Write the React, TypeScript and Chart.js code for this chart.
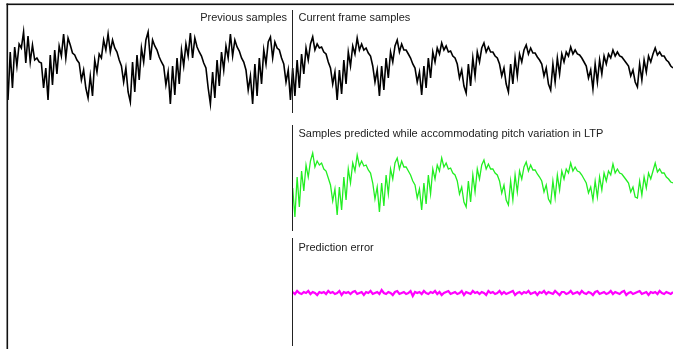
import React, { useEffect, useRef } from "react";
import { Chart, registerables } from "chart.js";

Chart.register(...registerables);

// Speech samples (arbitrary amplitude units); indices 0..127 are the previous samples,
// 128..299 the current frame.
const frameSamples: number[] = [
  -34, 14, -22, 19, 0, 22, 18, 34, 3, 30,
  4, 21, 6, 8, 4, 3, -22, -2, -34, 11,
  -19, 16, -8, 20, 10, 32, 8, 28, 21, 13,
  11, 6, 3, -14, -4, -22, -32, -10, -30, 6,
  -6, 12, 8, 26, 16, 32, 14, 26, 18, 14,
  6, 0, -16, -2, -26, -36, 4, -26, 11, -14,
  18, 4, 26, 34, 6, 26, 20, 16, 9, 4,
  0, -19, -6, -38, 0, -29, 8, -18, 16, 0,
  22, 10, 33, 8, 28, 19, 14, 10, 3, -2,
  -22, -38, -6, -32, 6, -20, 14, -4, 20, 8,
  32, 10, 26, 19, 15, 8, 4, -4, -24, -10,
  -38, 2, -30, 8, -18, 16, 2, 24, 29, 8,
  24, 18, 16, 8, 2, -16, -4, -34, -2, -30,
  6, -22, 12, -8, 18, 6, 22, 29, 16, 22,
  18, 19, 14, 12, 4, -2, -18, -6, -34, -4,
  -28, 6, -18, 14, 0, 20, 12, 28, 16, 22,
  16, 18, 13, 10, 0, -16, -4, -30, 0, -24,
  8, -12, 14, 4, 20, 26, 14, 22, 16, 16,
  12, 8, 2, -2, -16, -6, -29, 0, -22, 8,
  -12, 14, 4, 18, 12, 23, 16, 20, 14, 15,
  10, 8, 2, -12, -4, -20, -27, 2, -20, 8,
  -10, 14, 4, 18, 23, 14, 19, 14, 14, 10,
  8, 2, -10, -2, -18, -26, 2, -18, 8, -10,
  12, 4, 16, 21, 12, 18, 13, 13, 9, 6,
  2, -10, -2, -18, -24, 2, -16, 8, -8, 12,
  4, 14, 10, 19, 12, 16, 12, 11, 8, 4,
  0, -12, -4, -23, 2, -16, 6, -8, 10, 2,
  12, 8, 16, 10, 14, 10, 9, 6, 3, 0,
  -10, -4, -16, -21, 2, -14, 6, -6, 10, 4,
  12, 18, 11, 14, 10, 10, 6, 4, 0, -2,
];
const previousCount = 128;

// Samples predicted by the LTP for the current frame (same units)
const predictedSamples: number[] = [
  -7, -36, 4, -26, 10, -10, 16, 4, 20, 28,
  14, 20, 16, 18, 12, 10, 3, -4, -20, -8,
  -34, -6, -29, 4, -19, 12, -2, 18, 10, 26,
  15, 20, 15, 16, 11, 8, -2, -18, -6, -31,
  -2, -25, 6, -13, 12, 2, 18, 23, 12, 20,
  14, 14, 10, 6, 0, -4, -17, -8, -29, -2,
  -23, 6, -13, 12, 2, 16, 10, 23, 14, 18,
  12, 13, 8, 6, 0, -13, -6, -21, -26, 0,
  -21, 6, -11, 12, 2, 16, 21, 12, 17, 12,
  12, 8, 6, 0, -12, -4, -19, -24, 0, -19,
  6, -11, 10, 2, 14, 19, 10, 16, 11, 11,
  7, 4, 0, -11, -4, -18, -22, 0, -17, 6,
  -9, 10, 2, 12, 8, 18, 10, 14, 10, 9,
  6, 2, -2, -12, -6, -19, 0, -16, 4, -9,
  8, 0, 10, 6, 17, 8, 12, 8, 7, 4,
  1, -2, -11, -6, -16, -17, 0, -14, 4, -7,
  8, 2, 10, 18, 9, 12, 8, 8, 4, 2,
  -1, -2,
];

// Prediction error for the current frame (same units)
const predictionError: number[] = [
  1, -1, 2, 0, -1, 1, 0, 2, -1, 1,
  0, -2, 1, 0, 1, -1, 2, 0, 1, -1,
  0, 2, -2, 1, 0, 1, -1, 1, 2, -1,
  0, 1, -2, 1, 0, 2, -1, 0, 1, -1,
  3, 0, -1, 1, 0, -2, 1, 2, -1, 0,
  1, -1, 0, 2, -3, 1, 0, 1, -1, 2,
  0, -1, 1, 0, 2, -1, 1, -2, 0, 1,
  2, -1, 0, 1, -1, 0, 2, -2, 1, 0,
  -1, 2, 0, 1, -1, 1, 0, -2, 2, 0,
  1, -1, 0, 2, -1, 1, -1, 0, 1, 2,
  -2, 0, 1, -1, 1, 0, 2, -1, 0, 1,
  -2, 1, 0, 2, -1, 1, 0, -1, 2, 0,
  -2, 1, 1, -1, 0, 2, -1, 0, 1, -1,
  2, 0, -1, 1, 0, -2, 1, 2, -1, 0,
  1, -1, 0, 2, -1, 1, 0, -1, 1, 2,
  -2, 0, 1, -1, 0, 1, 2, -1, 0, 1,
  -2, 1, 0, 1, -1, 2, 0, -1, 1, 0,
  -1, 1,
];

const labelPrevious = "Previous samples";
const labelCurrent = "Current frame samples";
const labelPredicted = "Samples predicted while accommodating pitch variation in LTP";
const labelError = "Prediction error";

const W = 674;
const H = 349;

function bandAxis(centerPx: number) {
  return { display: false, min: centerPx - H, max: centerPx };
}

export default function App() {
  const ref = useRef<HTMLCanvasElement | null>(null);

  useEffect(() => {
    if (!ref.current) return;
    const toPoints = (arr: number[], start: number) =>
      arr.map((v, i) => ({ x: start + i, y: v }));

    const overlay = {
      id: "overlay",
      afterDatasetsDraw(chart: any) {
        const ctx = chart.ctx as CanvasRenderingContext2D;
        const xs = chart.scales.x;
        const div = Math.round(xs.getPixelForValue(previousCount - 0.5)) + 0.5;
        ctx.save();
        // frame
        ctx.fillStyle = "#111";
        ctx.fillRect(6.5, 3.5, W - 6.5, 1.6);
        ctx.fillRect(6.5, 3.5, 1.6, H - 3.5);
        // divider segments
        ctx.strokeStyle = "#222";
        ctx.lineWidth = 1;
        const segs = [
          [10, 113],
          [125, 231],
          [238, 346],
        ];
        for (const [a, b] of segs) {
          ctx.beginPath();
          ctx.moveTo(div, a);
          ctx.lineTo(div, b);
          ctx.stroke();
        }
        // texts
        ctx.fillStyle = "#222";
        ctx.font = '11px "Liberation Sans", Arial, sans-serif';
        ctx.textBaseline = "alphabetic";
        ctx.textAlign = "right";
        ctx.fillText(labelPrevious, div - 5.5, 21);
        ctx.textAlign = "left";
        ctx.fillText(labelCurrent, div + 6, 21);
        ctx.fillText(labelPredicted, div + 6, 137);
        ctx.fillText(labelError, div + 6, 251);
        ctx.restore();
      },
    };

    const chart = new Chart(ref.current, {
      type: "line",
      data: {
        datasets: [
          {
            data: toPoints(frameSamples, 0),
            borderColor: "#000",
            borderWidth: 1.6,
            pointRadius: 0,
            tension: 0,
            yAxisID: "y",
          },
          {
            data: toPoints(predictedSamples, previousCount),
            borderColor: "#22ee22",
            borderWidth: 1.3,
            pointRadius: 0,
            tension: 0,
            yAxisID: "y2",
          },
          {
            data: toPoints(predictionError, previousCount),
            borderColor: "#ff00ff",
            borderWidth: 2.2,
            pointRadius: 0,
            tension: 0,
            yAxisID: "y3",
          },
        ] as any,
      },
      options: {
        animation: false,
        responsive: false,
        events: [],
        layout: { padding: { left: 8, right: 1, top: 0, bottom: 0 } },
        plugins: { legend: { display: false }, tooltip: { enabled: false } },
        scales: {
          x: { type: "linear", display: false, min: 0, max: frameSamples.length - 1 },
          y: bandAxis(66),
          y2: bandAxis(181),
          y3: bandAxis(293),
        } as any,
      },
      plugins: [overlay],
    });
    return () => chart.destroy();
  }, []);

  return (
    <div style={{ position: "fixed", left: 0, top: 0, width: W, height: H, background: "#fff" }}>
      <canvas ref={ref} width={W} height={H} style={{ display: "block" }} />
    </div>
  );
}
